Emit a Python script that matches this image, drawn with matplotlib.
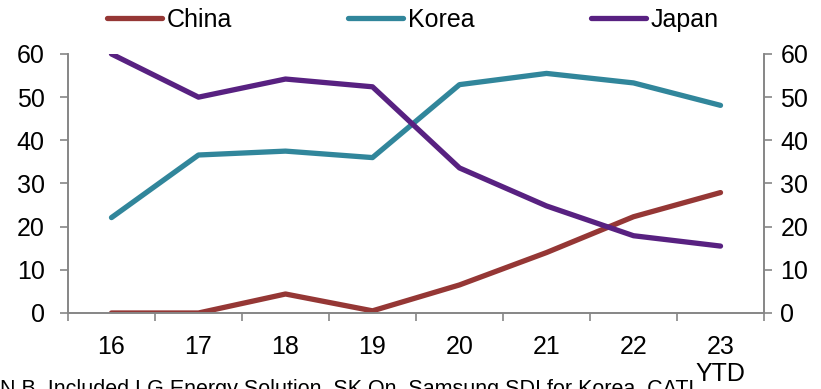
import matplotlib
matplotlib.use("Agg")
import matplotlib.pyplot as plt
import numpy as np

plt.rcParams['font.family'] = ['Liberation Sans', 'DejaVu Sans']

years = ["16", "17", "18", "19", "20", "21", "22", "23\nYTD"]
china = [0.0, 0.0, 4.4, 0.5, 6.5, 14.0, 22.3, 27.9]
korea = [22.1, 36.6, 37.5, 36.0, 52.9, 55.5, 53.3, 48.1]
japan = [60.0, 50.0, 54.2, 52.4, 33.6, 24.8, 17.9, 15.5]
y_ticks = [0, 10, 20, 30, 40, 50, 60]
footnote = "N.B. Included LG Energy Solution, SK On, Samsung SDI for Korea, CATL"

c_china = "#953735"
c_korea = "#31869B"
c_japan = "#582181"
grey = "#868686"
fs = 18

fig = plt.figure(figsize=(8.21, 3.89), dpi=100)
ax = fig.add_axes([0.0828, 0.1954, 0.8478, 0.6658])
x = np.arange(len(years))

lw = 3.8
style = dict(lw=lw, solid_capstyle='round', solid_joinstyle='round')
l1, = ax.plot(x, china, color=c_china, label="China", **style)
l2, = ax.plot(x, korea, color=c_korea, label="Korea", **style)
l3, = ax.plot(x, japan, color=c_japan, label="Japan", **style)

ax.set_xlim(-0.5, len(years) - 0.5)
ax.set_ylim(0, 60)
ax.set_yticks(y_ticks)
ax.set_xticks(x)
ax.set_xticklabels(years, fontsize=fs, linespacing=1.15)
ax.set_xticks(np.arange(-0.5, len(years), 1.0), minor=True)
ax.tick_params(axis='x', which='major', length=0, pad=16)
ax.tick_params(axis='x', which='minor', length=5.5, width=1.2, color=grey, direction='out')
ax.tick_params(axis='y', length=5.8, width=1.2, color=grey, labelsize=fs, pad=11)

ax.spines['top'].set_visible(False)
for s in ['left', 'right', 'bottom']:
    ax.spines[s].set_color(grey)
    ax.spines[s].set_linewidth(1.2)

ax2 = ax.twinx()
ax2.set_ylim(0, 60)
ax2.set_yticks(y_ticks)
ax2.tick_params(axis='y', length=5.8, width=1.2, color=grey, labelsize=fs, pad=6)
ax2.spines['top'].set_visible(False)
for s in ['left', 'right', 'bottom']:
    ax2.spines[s].set_color(grey)
    ax2.spines[s].set_linewidth(1.2)

fig.legend(handles=[l1, l2, l3], loc='center left', bbox_to_anchor=(94 / 821, 1 - 20 / 389),
           ncol=3, frameon=False, fontsize=fs, handlelength=2.2, borderpad=0,
           handletextpad=0.2, columnspacing=4.65)

fig.text(0.0, 1 - 379 / 389, footnote, fontsize=15.5, va='top', ha='left')

fig.savefig("out.png", dpi=100)
